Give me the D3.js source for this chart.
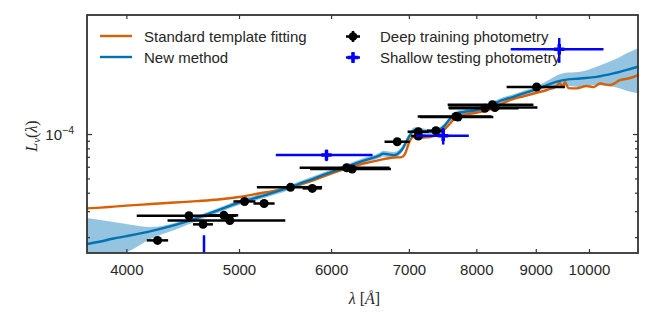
<!DOCTYPE html>
<html>
<head>
<meta charset="utf-8">
<script src="https://cdn.jsdelivr.net/npm/d3@7"></script>
<style>
  body { margin: 0; background: #fff; }
  svg text { font-family: "Liberation Sans", Arial, sans-serif; fill: #262626; }
  .math { font-family: "Liberation Serif", "DejaVu Serif", serif; }
</style>
</head>
<body>
<svg class="sed" width="654" height="327"></svg>
<script>
// x ticks (wavelength, Angstrom)
var xTicks = [4000, 5000, 6000, 7000, 8000, 9000, 10000];
var yMajor = [1e-4];
var yMinor = [2e-5, 3e-5, 4e-5, 5e-5, 6e-5, 7e-5, 8e-5, 9e-5];

// standard template fit
var lamStd = [3700, 3800, 3900, 4000, 4200, 4400, 4600, 4800, 5000, 5200,
  5400, 5600, 5800, 6000, 6200, 6400, 6600, 6800, 6900, 6945,
  7000, 7058, 7100, 7200, 7300, 7400, 7500, 7600, 7700, 7800,
  8000, 8200, 8400, 8600, 8800, 9000, 9200, 9380, 9440, 9490,
  9535, 9600, 9760, 9955, 10090, 10220, 10425, 10635, 10850, 11020];
var lumStd = [3.13e-5, 3.17e-5, 3.22e-5, 3.27e-5, 3.35e-5, 3.43e-5, 3.51e-5, 3.60e-5, 3.74e-5, 3.95e-5,
  4.17e-5, 4.47e-5, 4.87e-5, 5.40e-5, 5.88e-5, 6.31e-5, 6.66e-5, 6.93e-5, 6.98e-5, 7.31e-5,
  8.69e-5, 9.55e-5, 9.40e-5, 9.47e-5, 9.55e-5, 9.93e-5, 1.065e-4, 1.187e-4, 1.319e-4, 1.35e-4,
  1.394e-4, 1.46e-4, 1.595e-4, 1.727e-4, 1.81e-4, 1.898e-4, 1.99e-4, 2.117e-4, 2.22e-4, 2.08e-4,
  2.25e-4, 2.05e-4, 2.04e-4, 2.117e-4, 2.08e-4, 2.20e-4, 2.15e-4, 2.32e-4, 2.40e-4, 2.51e-4];

// new method: median and band
var lamNew = [3700, 3800, 3900, 4000, 4200, 4400, 4600, 4800, 5000, 5200,
  5400, 5529, 5600, 5800, 6000, 6200, 6400, 6600, 6652, 6800,
  6900, 7000, 7058, 7100, 7200, 7300, 7400, 7500, 7600, 7700,
  7800, 8000, 8200, 8400, 8600, 8800, 9000, 9200, 9503, 9822,
  10154, 10494, 10847, 11020];
var lumNew = [1.794e-5, 1.866e-5, 1.956e-5, 2.03e-5, 2.195e-5, 2.41e-5, 2.69e-5, 3.05e-5, 3.43e-5, 3.74e-5,
  4.10e-5, 4.34e-5, 4.51e-5, 4.99e-5, 5.52e-5, 6.02e-5, 6.61e-5, 7.14e-5, 7.37e-5, 7.20e-5,
  7.79e-5, 9.55e-5, 1.049e-4, 1.065e-4, 1.040e-4, 1.037e-4, 1.049e-4, 1.123e-4, 1.279e-4, 1.382e-4,
  1.412e-4, 1.45e-4, 1.546e-4, 1.687e-4, 1.783e-4, 1.898e-4, 2.006e-4, 2.15e-4, 2.32e-4, 2.382e-4,
  2.444e-4, 2.578e-4, 2.763e-4, 2.863e-4];
var lumNewHi = [2.69e-5, 2.61e-5, 2.53e-5, 2.45e-5, 2.34e-5, 2.49e-5, 2.78e-5, 3.15e-5, 3.57e-5, 3.89e-5,
  4.26e-5, 4.51e-5, 4.69e-5, 5.19e-5, 5.74e-5, 6.26e-5, 6.87e-5, 7.43e-5, 7.70e-5, 7.55e-5,
  8.16e-5, 1.001e-4, 1.099e-4, 1.116e-4, 1.090e-4, 1.078e-4, 1.091e-4, 1.168e-4, 1.330e-4, 1.437e-4,
  1.468e-4, 1.508e-4, 1.608e-4, 1.754e-4, 1.854e-4, 1.974e-4, 2.086e-4, 2.289e-4, 2.588e-4, 2.641e-4,
  2.857e-4, 3.173e-4, 3.621e-4, 3.817e-4];
var lumNewLo = [1.196e-5, 1.324e-5, 1.50e-5, 1.58e-5, 1.95e-5, 2.23e-5, 2.57e-5, 2.93e-5, 3.30e-5, 3.60e-5,
  3.94e-5, 4.17e-5, 4.34e-5, 4.80e-5, 5.31e-5, 5.79e-5, 6.36e-5, 6.87e-5, 7.05e-5, 6.87e-5,
  7.43e-5, 9.11e-5, 1.001e-4, 1.016e-4, 9.92e-5, 9.97e-5, 1.009e-4, 1.080e-4, 1.230e-4, 1.329e-4,
  1.358e-4, 1.394e-4, 1.487e-4, 1.622e-4, 1.715e-4, 1.825e-4, 1.929e-4, 2.052e-4, 2.129e-4, 2.089e-4,
  2.147e-4, 2.092e-4, 1.939e-4, 1.890e-4];

// deep training photometry
var lamDeep = [4255, 4528, 4656, 4852, 4910, 5055, 5255, 5537, 5781, 6188, 6256,
  6840, 7132, 7132, 7385, 7683, 7714, 8137, 8259, 8300, 9015];
var xerrDeep = [90, 445, 92, 140, 570, 110, 110, 357, 110, 550, 500,
  170, 150, 100, 130, 560, 560, 560, 700, 730, 520];
var lumDeep = [1.90e-5, 2.79e-5, 2.44e-5, 2.81e-5, 2.59e-5, 3.49e-5, 3.38e-5, 4.35e-5, 4.28e-5, 5.91e-5, 5.79e-5,
  8.87e-5, 1.037e-4, 9.70e-5, 1.053e-4, 1.315e-4, 1.305e-4, 1.496e-4, 1.582e-4, 1.512e-4, 2.084e-4];

// shallow testing photometry
var lamShallow = [4665, 5946, 7492, 9428];
var xerrShallow = [100, 568, 390, 864];
var lumShallow = [1.2e-5, 7.20e-5, 9.74e-5, 3.76e-4];
var yerrShallow = [0.86e-5, 0.65e-5, 1.25e-5, 7.2e-5];

var colStd = '#d95f02', colNew = '#0072b2', colShallow = '#0000ff';

var svg = d3.select('svg.sed');
var margin = {top: 15, right: 16, bottom: 74, left: 87};
var width = 654 - margin.left - margin.right;
var height = 327 - margin.top - margin.bottom;

var x = d3.scaleLog().domain([3700, 11020]).range([0, width]);
var y = d3.scaleLog().domain([1.56e-5, 6.42e-4]).range([height, 0]);

var g = svg.append('g')
  .attr('transform', 'translate(' + margin.left + ',' + margin.top + ')');

svg.append('defs').append('clipPath').attr('id', 'plotclip')
  .append('rect').attr('width', width).attr('height', height);

var plot = g.append('g').attr('clip-path', 'url(#plotclip)');

// band
var area = d3.area()
  .x(function(d, i) { return x(lamNew[i]); })
  .y0(function(d, i) { return y(lumNewLo[i]); })
  .y1(function(d, i) { return y(lumNewHi[i]); })
  .curve(d3.curveMonotoneX);
plot.append('path').datum(lamNew)
  .attr('d', area)
  .attr('fill', colNew)
  .attr('fill-opacity', 0.42);

var line = d3.line()
  .x(function(d) { return x(d[0]); })
  .y(function(d) { return y(d[1]); })
  .curve(d3.curveMonotoneX);

plot.append('path').datum(d3.zip(lamStd, lumStd))
  .attr('d', line)
  .attr('fill', 'none')
  .attr('stroke', colStd)
  .attr('stroke-width', 2.4);

plot.append('path').datum(d3.zip(lamNew, lumNew))
  .attr('d', line)
  .attr('fill', 'none')
  .attr('stroke', colNew)
  .attr('stroke-width', 2.4);

// deep points
var deep = d3.range(lamDeep.length);
plot.selectAll('line.deep-err').data(deep).enter().append('line')
  .attr('class', 'deep-err')
  .attr('x1', function(i) { return x(lamDeep[i] - xerrDeep[i]); })
  .attr('x2', function(i) { return x(lamDeep[i] + xerrDeep[i]); })
  .attr('y1', function(i) { return y(lumDeep[i]); })
  .attr('y2', function(i) { return y(lumDeep[i]); })
  .attr('stroke', '#000')
  .attr('stroke-width', 2.5);
plot.selectAll('circle.deep').data(deep).enter().append('circle')
  .attr('class', 'deep')
  .attr('cx', function(i) { return x(lamDeep[i]); })
  .attr('cy', function(i) { return y(lumDeep[i]); })
  .attr('r', 4.5)
  .attr('fill', '#000');

// shallow points
var shallow = d3.range(lamShallow.length);
plot.selectAll('line.sh-x').data(shallow).enter().append('line')
  .attr('x1', function(i) { return x(lamShallow[i] - xerrShallow[i]); })
  .attr('x2', function(i) { return x(lamShallow[i] + xerrShallow[i]); })
  .attr('y1', function(i) { return y(lumShallow[i]); })
  .attr('y2', function(i) { return y(lumShallow[i]); })
  .attr('stroke', colShallow)
  .attr('stroke-width', 2.5);
plot.selectAll('line.sh-y').data(shallow).enter().append('line')
  .attr('x1', function(i) { return x(lamShallow[i]); })
  .attr('x2', function(i) { return x(lamShallow[i]); })
  .attr('y1', function(i) { return y(lumShallow[i] - yerrShallow[i]); })
  .attr('y2', function(i) { return y(lumShallow[i] + yerrShallow[i]); })
  .attr('stroke', colShallow)
  .attr('stroke-width', 2.5);
plot.selectAll('path.sh').data(shallow).enter().append('path')
  .attr('d', d3.symbol().type(d3.symbolCross).size(60))
  .attr('transform', function(i) { return 'translate(' + x(lamShallow[i]) + ',' + y(lumShallow[i]) + ')'; })
  .attr('fill', colShallow);

// axes, ticks pointing inward
var axisCol = '#333';
var xb = g.append('g').attr('transform', 'translate(0,' + height + ')')
  .call(d3.axisBottom(x).tickValues(xTicks).tickFormat(d3.format('d')).tickSize(-4).tickPadding(11));
var xt = g.append('g')
  .call(d3.axisTop(x).tickValues(xTicks).tickFormat('').tickSize(-4));
var yl = g.append('g')
  .call(d3.axisLeft(y).tickValues(yMajor).tickFormat('').tickSize(-5));
var ylm = g.append('g')
  .call(d3.axisLeft(y).tickValues(yMinor).tickFormat('').tickSize(-3));
var yr = g.append('g').attr('transform', 'translate(' + width + ',0)')
  .call(d3.axisRight(y).tickValues(yMajor).tickFormat('').tickSize(-5));
var yrm = g.append('g').attr('transform', 'translate(' + width + ',0)')
  .call(d3.axisRight(y).tickValues(yMinor).tickFormat('').tickSize(-3));
[xb, xt, yl, ylm, yr, yrm].forEach(function(a) {
  a.select('.domain').remove();
  a.selectAll('line').attr('stroke', axisCol).attr('stroke-width', 1.2);
});
xb.selectAll('text')
  .style('font-family', '"Liberation Sans", Arial, sans-serif')
  .style('font-size', '15px')
  .attr('fill', '#262626');

// y tick label 10^-4
var ylab = g.append('text')
  .attr('x', -13)
  .attr('y', y(1e-4) + 5.5)
  .attr('text-anchor', 'end')
  .style('font-size', '15px');
ylab.append('tspan').text('10');
ylab.append('tspan').attr('dy', -6).style('font-size', '10.5px').text('\u22124');

g.append('rect')
  .attr('width', width).attr('height', height)
  .attr('fill', 'none')
  .attr('stroke', axisCol)
  .attr('stroke-width', 1.8);

// axis labels
var xl = svg.append('text').attr('class', 'math')
  .attr('x', margin.left + width / 2 + 2)
  .attr('y', 304)
  .attr('text-anchor', 'middle')
  .style('font-size', '16px');
xl.append('tspan').style('font-style', 'italic').text('\u03bb');
xl.append('tspan').text(' [');
xl.append('tspan').style('font-style', 'italic').text('\u00c5');
xl.append('tspan').text(']');

var yt = svg.append('text').attr('class', 'math')
  .attr('transform', 'translate(37,136) rotate(-90)')
  .attr('text-anchor', 'middle')
  .style('font-size', '16px');
yt.append('tspan').style('font-style', 'italic').text('L');
yt.append('tspan').style('font-style', 'italic').style('font-size', '11px').attr('dy', 3).text('\u03bd');
yt.append('tspan').attr('dy', -3).text('(');
yt.append('tspan').style('font-style', 'italic').text('\u03bb');
yt.append('tspan').text(')');

// legend
var legLines = [
  {label: 'Standard template fitting', color: colStd},
  {label: 'New method', color: colNew}
];
var legPts = [
  {label: 'Deep training photometry', color: '#000', sym: 'circle'},
  {label: 'Shallow testing photometry', color: colShallow, sym: 'cross'}
];
var leg = svg.append('g').attr('class', 'legend');
leg.selectAll('line.ll').data(legLines).enter().append('line')
  .attr('x1', 100).attr('x2', 132)
  .attr('y1', function(d, i) { return 36 + i * 21; })
  .attr('y2', function(d, i) { return 36 + i * 21; })
  .attr('stroke', function(d) { return d.color; })
  .attr('stroke-width', 2.4);
leg.selectAll('text.lt').data(legLines).enter().append('text')
  .attr('x', 144)
  .attr('y', function(d, i) { return 41.5 + i * 21; })
  .style('font-size', '15px')
  .text(function(d) { return d.label; });

var lp = leg.selectAll('g.lp').data(legPts).enter().append('g')
  .attr('transform', function(d, i) { return 'translate(353,' + (36.5 + i * 21) + ')'; });
lp.append('line').attr('x1', -7).attr('x2', 7)
  .attr('stroke', function(d) { return d.color; }).attr('stroke-width', 2.5);
lp.append('line').attr('y1', -5.5).attr('y2', 5.5)
  .attr('stroke', function(d) { return d.color; }).attr('stroke-width', 2.5);
lp.append('path')
  .attr('d', function(d) {
    return d.sym === 'circle' ? d3.symbol().type(d3.symbolCircle).size(60)() : d3.symbol().type(d3.symbolCross).size(60)();
  })
  .attr('fill', function(d) { return d.color; });
leg.selectAll('text.pt').data(legPts).enter().append('text')
  .attr('x', 380)
  .attr('y', function(d, i) { return 41.5 + i * 21; })
  .style('font-size', '15px')
  .text(function(d) { return d.label; });
</script>
</body>
</html>
